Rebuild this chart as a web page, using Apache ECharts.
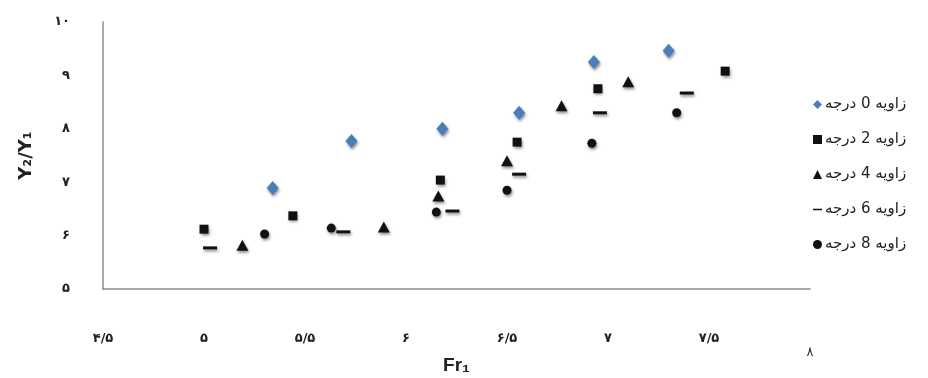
<!DOCTYPE html>
<html>
<head>
<meta charset="utf-8">
<script src="https://cdn.jsdelivr.net/npm/echarts@6/dist/echarts.min.js"></script>
<style>
  html, body { margin: 0; padding: 0; background: #ffffff; }
  #chart { width: 928px; height: 378px; }
</style>
</head>
<body>
<div id="chart"></div>
<script>
// Flow depth ratio Y2/Y1 against upstream Froude number, per sill angle
const seriesNames = ['زاویه 0 درجه', 'زاویه 2 درجه', 'زاویه 4 درجه', 'زاویه 6 درجه', 'زاویه 8 درجه'];

const angle0 = [[5.34, 6.89], [5.73, 7.77], [6.18, 8.00], [6.56, 8.30], [6.93, 9.25], [7.30, 9.46]];
const angle2 = [[5.00, 6.12], [5.44, 6.37], [6.17, 7.04], [6.55, 7.75], [6.95, 8.75], [7.58, 9.08]];
const angle4 = [[5.19, 5.82], [5.89, 6.16], [6.16, 6.74], [6.50, 7.40], [6.77, 8.43], [7.10, 8.88]];
const angle6 = [[5.03, 5.77], [5.69, 6.07], [6.23, 6.46], [6.56, 7.15], [6.96, 8.30], [7.39, 8.67]];
const angle8 = [[5.30, 6.03], [5.63, 6.14], [6.15, 6.44], [6.50, 6.85], [6.92, 7.73], [7.34, 8.30]];

const xTickValues = [4.5, 5, 5.5, 6, 6.5, 7, 7.5, 8];
const xTickLabels = ['۴/۵', '۵', '۵/۵', '۶', '۶/۵', '۷', '۷/۵', '۸'];
const yTickValues = [5, 6, 7, 8, 9, 10];
const yTickLabels = ['۵', '۶', '۷', '۸', '۹', '۱۰'];

const chart = echarts.init(document.getElementById('chart'), null, { renderer: 'canvas' });

const shadow = {
  shadowColor: 'rgba(0,0,0,0.45)',
  shadowBlur: 3,
  shadowOffsetX: 1,
  shadowOffsetY: 2
};

// Thin horizontal bar inside a square box (tiny corner specks keep the box square)
const dashIcon = 'path://M0,0L0.01,0L0,0.01Z M10,10L9.99,10L10,9.99Z M0,4.2L10,4.2L10,5.8L0,5.8Z';
const legendIcons = ['diamond', 'rect', 'triangle', dashIcon, 'circle'];

function scatter(name, data, symbol, size, color) {
  return {
    name: name,
    type: 'scatter',
    data: data,
    symbol: symbol,
    symbolSize: size,
    itemStyle: Object.assign({ color: color, opacity: 1 }, shadow),
    emphasis: { disabled: true }
  };
}

function findLabel(values, labels, v) {
  for (let i = 0; i < values.length; i++) {
    if (Math.abs(values[i] - v) < 1e-6) return labels[i];
  }
  return '';
}

const option = {
  backgroundColor: '#ffffff',
  animation: false,
  textStyle: { fontFamily: 'DejaVu Sans' },
  grid: { left: 103, right: 118, top: 22, bottom: 89, containLabel: false, outerBoundsMode: 'none' },
  legend: {
    orient: 'vertical',
    left: 808,
    top: 92,
    itemGap: 20,
    itemWidth: 9,
    itemHeight: 9,
    align: 'left',
    textStyle: { fontFamily: 'DejaVu Sans', fontSize: 15, color: '#222222', padding: [0, 0, 0, -2] },
    data: seriesNames.map(function (n, i) { return { name: n, icon: legendIcons[i] }; })
  },
  xAxis: {
    type: 'value',
    min: 4.5,
    max: 8,
    interval: 0.5,
    name: 'Fr₁',
    nameLocation: 'middle',
    nameGap: 67,
    nameMoveOverlap: false,
    nameTextStyle: { fontFamily: 'Liberation Sans', fontWeight: 'bold', fontSize: 19, color: '#222222' },
    axisLine: { show: true, onZero: false, lineStyle: { color: '#8c8c8c', width: 1.5 } },
    axisTick: { show: false },
    splitLine: { show: false },
    axisLabel: {
      margin: 43,
      showMinLabel: true,
      showMaxLabel: true,
      fontFamily: 'DejaVu Sans',
      fontWeight: 'bold',
      fontSize: 13,
      color: '#222222',
      formatter: function (v) {
        const t = findLabel(xTickValues, xTickLabels, v);
        return v === 8 ? '{e|' + t + '}' : t;
      },
      rich: {
        e: { fontFamily: 'DejaVu Sans', fontSize: 13, fontWeight: 'normal', color: '#333333', padding: [14, 0, 0, 0] }
      }
    }
  },
  yAxis: {
    type: 'value',
    min: 5,
    max: 10,
    interval: 1,
    name: 'Y₂/Y₁',
    nameLocation: 'middle',
    nameRotate: 90,
    nameGap: 68,
    nameMoveOverlap: false,
    nameTextStyle: { fontFamily: 'DejaVu Sans', fontWeight: 'bold', fontSize: 18, color: '#222222' },
    axisLine: { show: true, onZero: false, lineStyle: { color: '#8c8c8c', width: 1.5 } },
    axisTick: { show: false },
    splitLine: { show: false },
    axisLabel: {
      margin: 33,
      fontFamily: 'DejaVu Sans',
      fontWeight: 'bold',
      fontSize: 13,
      color: '#222222',
      formatter: function (v) { return findLabel(yTickValues, yTickLabels, v); }
    }
  },
  series: [
    scatter(seriesNames[0], angle0, 'diamond', [12, 14], '#4a7ebb'),
    scatter(seriesNames[1], angle2, 'rect', 9, '#111111'),
    scatter(seriesNames[2], angle4, 'triangle', [12, 11], '#111111'),
    scatter(seriesNames[3], angle6, 'rect', [14, 3], '#111111'),
    scatter(seriesNames[4], angle8, 'circle', 9, '#111111')
  ]
};

chart.setOption(option);
</script>
</body>
</html>
